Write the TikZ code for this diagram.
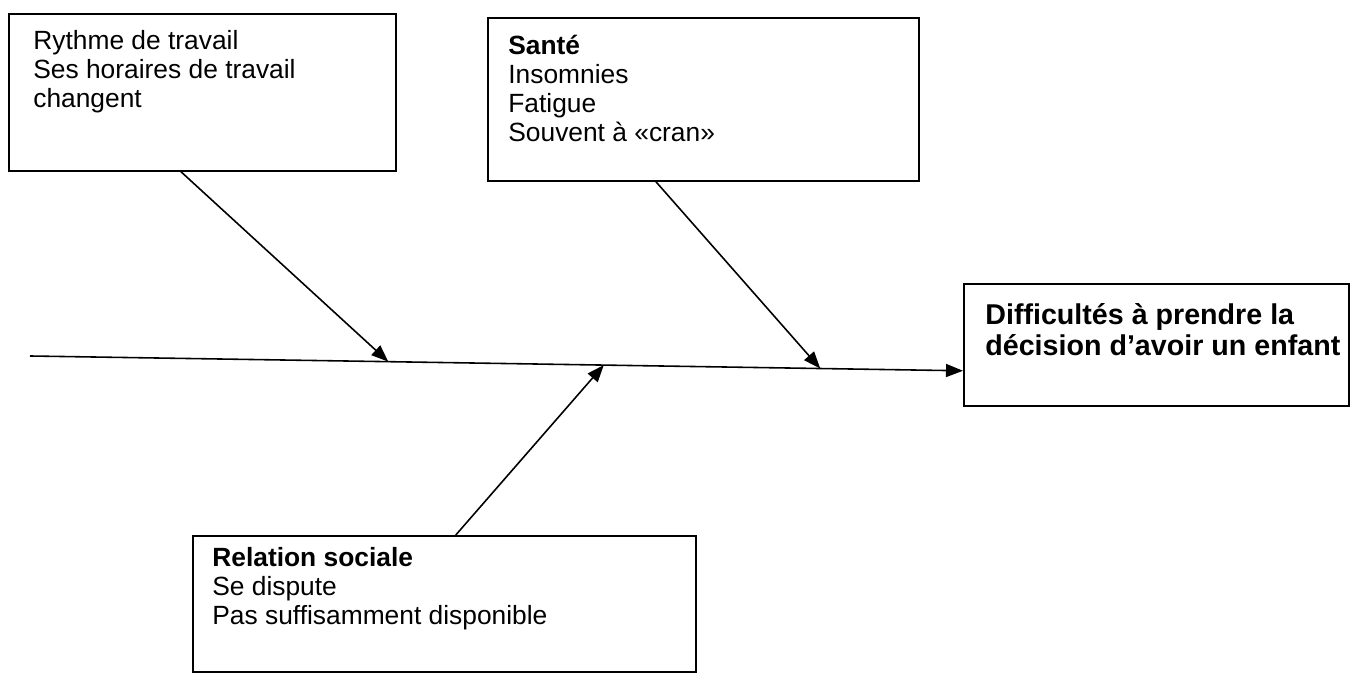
\documentclass[tikz,border=0pt]{standalone}
\usepackage{fontspec}
\setmainfont{Liberation Sans}
\usetikzlibrary{calc,arrows.meta}
\tikzset{
	causebox/.style={draw, line width=0.9pt, rectangle, anchor=north west, inner sep=0pt},
	boxtext/.style={anchor=north west, inner sep=0pt, align=left, font=\fontsize{15}{16.5}\selectfont},
	bone/.style={line width=0.9pt, -{Triangle[length=0.34cm, width=0.26cm]}},
}

\begin{document}
\begin{tikzpicture}
			%%%%% START %%%%%
			\useasboundingbox (0, 0) rectangle (27, 13.46);
			
			\node[causebox, minimum width=7.74cm, minimum height=3.14cm] (rythme) at (0.16, 13.2) {};
			\node[boxtext] (rythmetxt) at ($(rythme.north west)+(0.5, -0.34)$) {Rythme de travail\\Ses horaires de travail\\changent};
			
			\node[causebox, minimum width=8.62cm, minimum height=3.26cm] (sante) at (9.74, 13.12) {};
			\node[boxtext] (santetxt) at ($(sante.north west)+(0.42, -0.36)$) {\textbf{Santé}\\Insomnies\\Fatigue\\Souvent à «cran»};
			
			\node[causebox, minimum width=10.06cm, minimum height=2.72cm] (relation) at (3.84, 2.76) {};
			\node[boxtext] (relationtxt) at ($(relation.north west)+(0.4, -0.25)$) {\textbf{Relation sociale}\\Se dispute\\Pas suffisamment disponible};
			
			\node[causebox, minimum width=7.7cm, minimum height=2.44cm] (effet) at (19.26, 7.8) {};
			\node[boxtext, font=\bfseries\fontsize{16.3}{17.6}\selectfont] (effettxt) at ($(effet.north west)+(0.44, -0.4)$) {Difficultés à prendre la\\décision d’avoir un enfant};
			
			% arete principale
			\coordinate (queue) at (0.6, 6.34);
			\draw[bone] (queue) -- coordinate[pos=0.384] (j1) coordinate[pos=0.615] (j2) coordinate[pos=0.847] (j3) ([yshift=-0.52cm]effet.west);
			
			% aretes des causes
			\draw[bone] ([xshift=-0.43cm]rythme.south) -- (j1);
			\draw[bone] ([xshift=-0.95cm]sante.south) -- (j3);
			\draw[bone] ([xshift=0.23cm]relation.north) -- (j2);
			%%%%% END %%%%%
		\end{tikzpicture}
\end{document}
